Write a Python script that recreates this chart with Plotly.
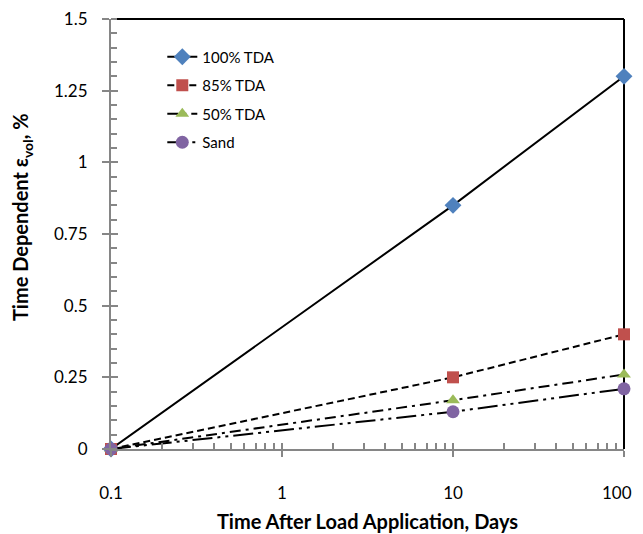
import plotly.graph_objects as go

# data
days = [0.1, 10, 100]
tda_100 = [0.0, 0.85, 1.30]
tda_85 = [0.0, 0.25, 0.40]
tda_50 = [0.0, 0.17, 0.26]
sand = [0.0, 0.13, 0.21]

x_ticks = [0.1, 1, 10, 100]
x_labels = ["0.1", "1", "10", "100"]
y_ticks = [0, 0.25, 0.5, 0.75, 1, 1.25, 1.5]
y_labels = ["0", "0.25", "0.5", "0.75", "1", "1.25", "1.5"]

series = [
    ("100% TDA", tda_100, "solid", "diamond", "#4F81BD", 13),
    ("85% TDA", tda_85, "7px,4px", "square", "#C0504D", 12),
    ("50% TDA", tda_50, "11px,5px,3px,5px", "triangle-up", "#9BBB59", 12),
    ("Sand", sand, "20px,5px,3px,5px,3px,5px", "circle", "#8064A2", 13),
]

AXIS_GREY = "#868686"
FONT = "Lato, 'Open Sans', sans-serif"

fig = go.Figure()
for name, vals, dash, symbol, color, size in series:
    fig.add_trace(
        go.Scatter(
            x=days,
            y=vals,
            name=name,
            legendgroup=name,
            mode="lines+markers",
            line=dict(color="black", width=2, dash=dash),
            marker=dict(symbol=symbol, size=size, color=color),
            cliponaxis=False,
        )
    )

minor_x = [m * d for d in (0.1, 1, 10) for m in range(2, 10)]

# the page body adds an 8px offset, so the figure is sized a bit smaller
fig.update_layout(
    width=635,
    height=526,
    margin=dict(l=103, r=19, t=11, b=85),
    paper_bgcolor="white",
    plot_bgcolor="white",
    font=dict(family=FONT, size=17, color="black"),
    showlegend=True,
    legend=dict(
        x=0.10,
        y=0.95,
        xanchor="left",
        yanchor="top",
        font=dict(size=15),
        tracegroupgap=6,
        bgcolor="rgba(0,0,0,0)",
    ),
    xaxis=dict(
        type="log",
        range=[-1, 2],
        automargin=False,
        tickvals=x_ticks,
        # last label is drawn as an annotation so it is not cut at the edge
        ticktext=x_labels[:-1] + [""],
        ticks="outside",
        ticklen=6,
        tickwidth=2,
        tickcolor=AXIS_GREY,
        ticklabelstandoff=22,
        ticklabeloverflow="allow",
        showline=True,
        linecolor=AXIS_GREY,
        linewidth=2,
        showgrid=False,
        zeroline=False,
        minor=dict(tickvals=minor_x, ticks="inside", ticklen=6, tickwidth=1.5, tickcolor=AXIS_GREY, showgrid=False),
        title=dict(text="<b>Time After Load Application, Days</b>", font=dict(size=20), standoff=13),
    ),
    yaxis=dict(
        range=[0, 1.5],
        automargin=False,
        tickvals=y_ticks,
        ticktext=y_labels,
        ticks="outside",
        ticklen=7,
        tickwidth=2,
        tickcolor=AXIS_GREY,
        ticklabelstandoff=11,
        ticklabeloverflow="allow",
        showline=True,
        linecolor=AXIS_GREY,
        linewidth=2,
        showgrid=False,
        zeroline=False,
        minor=dict(dtick=0.05, ticks="inside", ticklen=6, tickwidth=1.5, tickcolor=AXIS_GREY, showgrid=False),
    ),
    # second axes only to draw the inner half of the major ticks
    xaxis2=dict(
        type="log", range=[-1, 2], overlaying="x", anchor="y", side="bottom", automargin=False,
        tickvals=x_ticks, ticks="inside", ticklen=6, tickwidth=2,
        tickcolor=AXIS_GREY, showticklabels=False, showgrid=False, zeroline=False, showline=False,
    ),
    yaxis2=dict(
        range=[0, 1.5], overlaying="y", anchor="x", side="left", automargin=False,
        tickvals=y_ticks, ticks="inside", ticklen=7, tickwidth=2,
        tickcolor=AXIS_GREY, showticklabels=False, showgrid=False, zeroline=False, showline=False,
    ),
)
fig.add_trace(go.Scatter(x=[], y=[], xaxis="x2", yaxis="y2", showlegend=False, hoverinfo="skip"))

fig.add_annotation(
    text=x_labels[-1],
    xref="paper", yref="paper", x=1, y=-0.102,
    xanchor="right", yanchor="middle", xshift=10,
    showarrow=False, font=dict(size=17),
)

# y title placed as an annotation, it sits a little above the plot centre
fig.add_annotation(
    text="<b>Time Dependent ε<sub>vol</sub>, %</b>",
    xref="paper", yref="paper", x=-0.173, y=0.54,
    textangle=-90, showarrow=False, font=dict(size=20),
    xanchor="center", yanchor="middle",
)

# black top and right frame lines
fig.add_shape(type="line", xref="paper", yref="paper", x0=0, x1=1, y0=1, y1=1,
              line=dict(color="black", width=2), layer="below")
fig.add_shape(type="line", xref="paper", yref="paper", x0=1, x1=1, y0=0, y1=1,
              line=dict(color="black", width=2), layer="below")

fig.write_html("out.html")
